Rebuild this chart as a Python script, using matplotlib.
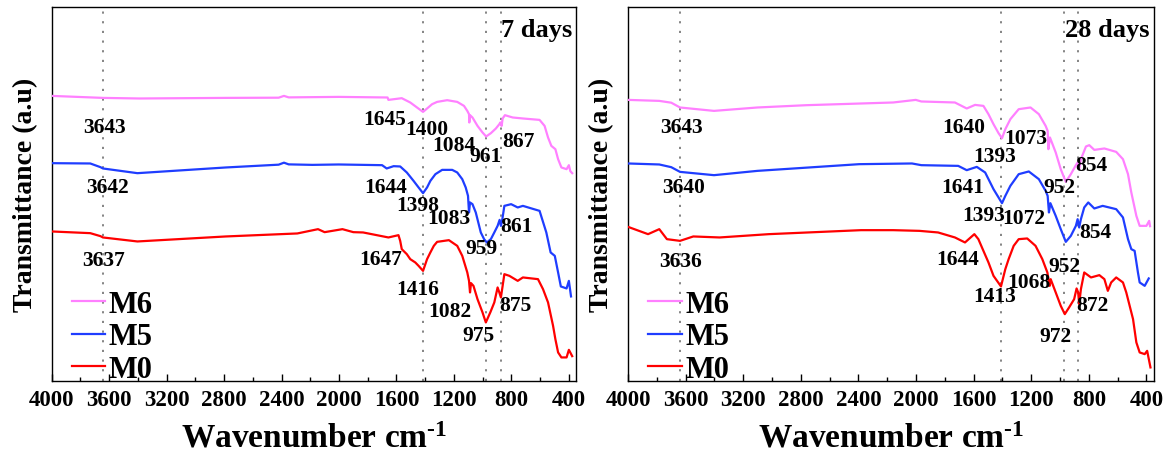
import matplotlib
matplotlib.use("Agg")
import matplotlib.pyplot as plt
from matplotlib.ticker import MultipleLocator

plt.rcParams["font.family"] = ["Liberation Serif", "DejaVu Serif"]
plt.rcParams["font.weight"] = "bold"
plt.rcParams["mathtext.fontset"] = "custom"
plt.rcParams["mathtext.rm"] = "Liberation Serif:bold"
plt.rcParams["mathtext.it"] = "Liberation Serif:bold"
plt.rcParams["mathtext.bf"] = "Liberation Serif:bold"

series_names = ["M6", "M5", "M0"]
series_colors = ["#ff80ff", "#1f3dff", "#ff0000"]

# ---- 7 days spectra (wavenumber, transmittance offset) ----
wn_7d_M6 = [4000, 3643, 3390, 2788, 2420, 2383, 2350, 2002, 1662, 1656, 1563, 1504, 1457, 1415,
            1387, 1352, 1317, 1247, 1177, 1130, 1107, 1095, 1093, 1088, 1071, 1036, 1001, 976,
            943, 908, 884, 877, 868, 861, 845, 791, 720, 604, 569, 545, 522, 494, 475, 452,
            416, 400, 390, 377]
t_7d_M6 = [285.3, 283.3, 282.7, 283.3, 283.5, 285.3, 283.8, 284.3, 283.7, 281.3, 283, 278.7, 273.7, 269.3,
           272.7, 277, 279.3, 281, 279.3, 275.3, 270.3, 267, 258.7, 266, 263.7, 255.3, 248.7, 244.7,
           248, 252.7, 257, 258.7, 255.3, 262.7, 266, 263.7, 262.7, 261.3, 255.3, 243.7, 235.3, 232, 222, 213.7,
           212, 216, 210, 208]

wn_7d_M5 = [4000, 3731, 3660, 3643, 3403, 2788, 2420, 2383, 2350, 2185, 2002, 1700, 1668, 1620,
            1574, 1528, 1481, 1446, 1415, 1387, 1364, 1329, 1282, 1212, 1177, 1142, 1118, 1102,
            1095, 1088, 1071, 1048, 1013, 990, 971, 943, 919, 896, 882, 873, 863, 849, 802, 756,
            720, 604, 557, 527, 498, 475, 456, 416, 400, 385]
t_7d_M5 = [218, 217.7, 214, 212.7, 208, 213.7, 216.5, 218.5, 216.8, 216.3, 216.7, 216, 212.7, 215,
           214.7, 208.7, 200.3, 193.7, 188, 193.7, 200.3, 207, 211.3, 211.3, 208.7, 202, 193.7, 185.3,
           168.7, 178.7, 177, 168.7, 148.7, 142, 138.7, 142, 148.7, 155.3, 161.3, 155.3, 162, 175.3, 177, 173.7,
           175.3, 170.3, 148.7, 128.7, 125.3, 108.7, 94.7, 92.7, 100.3, 84.7]

wn_7d_M0 = [4000, 3731, 3660, 3643, 3403, 2788, 2290, 2146, 2100, 1976, 1900, 1832, 1656, 1586,
            1574, 1563, 1528, 1504, 1469, 1446, 1415, 1387, 1364, 1340, 1317, 1235, 1177, 1142,
            1107, 1095, 1088, 1081, 1064, 1036, 1001, 978, 947, 919, 896, 884, 873, 861, 849, 814,
            756, 720, 615, 580, 545, 510, 494, 475, 452, 416, 400, 377]
t_7d_M0 = [149.7, 148, 145, 143.7, 139.7, 144.7, 147.7, 152, 149, 152, 149, 148.7, 143.7, 146,
           140.3, 132, 127, 122, 118.7, 115.3, 110.3, 122, 128.7, 135.3, 139.3, 141, 135.3, 125.3,
           108.7, 100.3, 88.7, 98, 95.3, 82, 68.7, 58.7, 68.7, 78.7, 93.7, 88.7, 83.7, 95.3, 107, 105.3,
           100.3, 103.7, 102, 92, 78.7, 55.3, 42, 28.7, 23.7, 23.7, 31.3, 25]

# ---- 28 days spectra ----
wn_28d_M6 = [4000, 3783, 3700, 3639, 3403, 3102, 2761, 2159, 2002, 1963, 1730, 1648, 1590, 1532,
             1497, 1462, 1427, 1403, 1380, 1345, 1287, 1205, 1147, 1100, 1086, 1081, 1070, 1030,
             995, 960, 925, 890, 878, 867, 855, 820, 797, 762, 692, 610, 563, 528, 505, 470, 447,
             400, 381, 375]
t_28d_M6 = [281.3, 280.3, 278.5, 273.7, 270.3, 273.7, 276, 278.7, 281.3, 279.7, 278.7, 272.7, 276.3, 275.3,
            267, 257, 248, 243, 252, 262, 272, 273.7, 267, 255.3, 250.3, 232, 243.7, 228.7,
            212, 199.3, 207, 216, 218.7, 212, 222, 234.7, 236, 231.3, 232.7, 229.3, 222, 207, 188.7, 165.3, 155.3,
            155.3, 160.3, 155]

wn_28d_M5 = [4000, 3783, 3700, 3639, 3403, 3102, 2395, 2028, 1963, 1707, 1648, 1578, 1520, 1462,
             1427, 1403, 1380, 1345, 1287, 1217, 1147, 1100, 1086, 1077, 1067, 1030, 995, 960, 925,
             890, 878, 867, 855, 832, 804, 762, 704, 610, 563, 528, 505, 482, 459, 447, 412, 384]
t_28d_M5 = [217.7, 216.7, 214, 209.3, 206, 210.3, 217, 217.7, 216, 215.3, 211, 214.3, 208.7, 192,
            183.7, 178, 185.3, 195.3, 207, 209.7, 202, 190.3, 185.3, 168.7, 178, 165.3, 152, 139.3, 145.3,
            155.3, 162, 153.7, 162, 173.7, 178.7, 172.7, 175.3, 172, 163.7, 142, 132, 130.3, 108.7, 98.7, 95.3, 102.7]

wn_28d_M0 = [4000, 3861, 3783, 3730, 3639, 3547, 3364, 3023, 2382, 2159, 1976, 1847, 1730, 1660,
             1595, 1567, 1532, 1497, 1462, 1410, 1380, 1357, 1322, 1287, 1228, 1170, 1123, 1088,
             1072, 1065, 1030, 995, 967, 937, 902, 885, 874, 867, 855, 832, 785, 727, 692, 668,
             645, 610, 563, 540, 493, 470, 447, 412, 395, 372]
t_28d_M0 = [154.3, 147, 152, 142, 140.3, 144.7, 143.7, 147, 151, 151, 150.3, 148.7, 143.7, 138.7,
            147, 142, 130.3, 118.7, 105.3, 94.7, 112, 122, 135.3, 142, 142.7, 135.3, 122, 108.7,
            95.3, 102, 88.7, 75.3, 67, 73.7, 82, 92.7, 88.7, 77, 92, 108.7, 103.7, 106, 102, 90.3,
            98.7, 103.7, 98.7, 88.7, 62, 38.7, 28.7, 27, 30.3, 13.7]

# reference band positions (cm-1)
bands_7d = [3640, 1416, 975, 875]
bands_28d = [3640, 1413, 972, 872]

# peak labels: (text, x position in cm-1, y position)
peaks_7d = [("3643", 3631, 253.7), ("3642", 3614, 193.7), ("3637", 3639, 121),
            ("1645", 1682, 262), ("1400", 1392, 252), ("1084", 1203, 236.5),
            ("961", 979, 225.3), ("867", 752, 240.3),
            ("1644", 1673, 193.7), ("1398", 1455, 176), ("1083", 1238, 162.7),
            ("959", 1007, 132.7), ("861", 763, 155.3),
            ("1647", 1710, 122), ("1416", 1455, 92), ("1082", 1228, 70.3),
            ("975", 1026, 46), ("875", 770, 76)]
peaks_28d = [("3643", 3632, 253.7), ("3640", 3614, 193.7), ("3636", 3632, 120.3),
             ("1640", 1671, 253.7), ("1073", 1237, 242.7), ("1393", 1453, 225.3),
             ("854", 785, 216), ("952", 1006, 194.3),
             ("1641", 1678, 193.7), ("1393", 1528, 166.3), ("1072", 1253, 162.7),
             ("854", 757, 148.7), ("952", 971, 114.7),
             ("1644", 1713, 122), ("1068", 1214, 99.3), ("1413", 1453, 85.3),
             ("872", 773, 76), ("972", 1029, 45.3)]

panels = [
    ("7 days", [(wn_7d_M6, t_7d_M6), (wn_7d_M5, t_7d_M5), (wn_7d_M0, t_7d_M0)], bands_7d, peaks_7d),
    ("28 days", [(wn_28d_M6, t_28d_M6), (wn_28d_M5, t_28d_M5), (wn_28d_M0, t_28d_M0)], bands_28d, peaks_28d),
]

fig = plt.figure(figsize=(11.68, 4.56), dpi=100)
axes_rects = [[0.0442, 0.162, 0.449, 0.820], [0.5377, 0.162, 0.450, 0.820]]

for rect, (title, curves, bands, peaks) in zip(axes_rects, panels):
    ax = fig.add_axes(rect)
    for b in bands:
        ax.axvline(b, color="#707070", lw=1.2, dashes=(1.3, 4.5), zorder=1)
    for name, color, (wn, t) in zip(series_names, series_colors, curves):
        ax.plot(wn, t, color=color, lw=1.6, label=name, zorder=3,
                solid_joinstyle="round")
    for txt, x, y in peaks:
        ax.text(x, y, txt, ha="center", va="center", fontsize=15.5, fontweight="bold", zorder=4)
    ax.text(0.992, 0.94, title, transform=ax.transAxes, ha="right", va="center",
            fontsize=19, fontweight="bold")
    ax.set_xlim(4000, 350)
    ax.set_ylim(0, 374)
    ax.xaxis.set_major_locator(MultipleLocator(400))
    ax.xaxis.set_minor_locator(MultipleLocator(200))
    ax.tick_params(axis="x", which="major", direction="in", length=5, width=1,
                   labelsize=16.5, pad=6, top=False)
    ax.tick_params(axis="x", which="minor", direction="in", length=3, width=1, top=False)
    ax.set_yticks([])
    for lab in ax.get_xticklabels():
        lab.set_fontweight("bold")
    for sp in ax.spines.values():
        sp.set_linewidth(1.0)
    ax.set_xlabel("Wavenumber cm$^{\u2010 1}$", fontsize=24, fontweight="bold", labelpad=9)
    ax.set_ylabel("Transmittance (a.u)", fontsize=20, fontweight="bold", labelpad=10)
    ax.legend(loc="lower left", bbox_to_anchor=(0.003, -0.057), frameon=False,
              handlelength=1.1, handletextpad=0.12, labelspacing=0.12, borderpad=0.1,
              prop={"family": "Liberation Serif", "weight": "bold", "size": 22})

fig.savefig("out.png", dpi=100)
